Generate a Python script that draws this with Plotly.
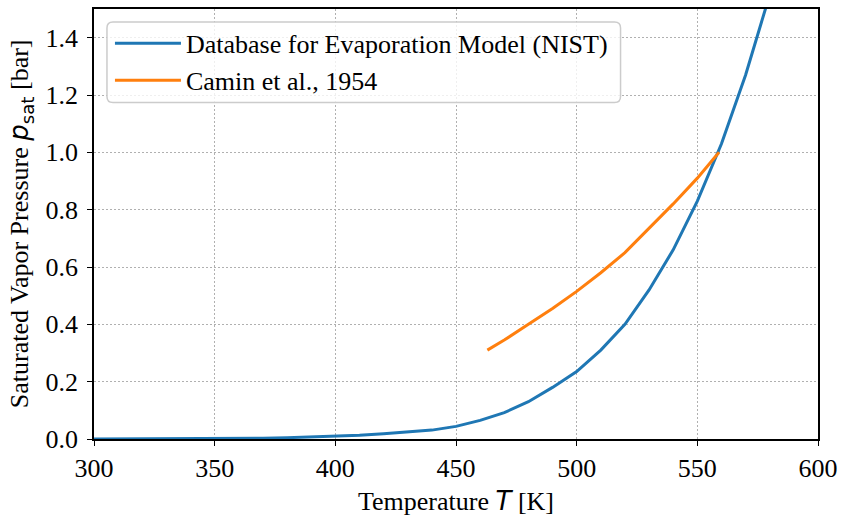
import plotly.graph_objects as go

# NIST database (blue)
nist_T = [300, 310, 320, 330, 340, 350, 360, 370, 380, 390, 400, 410, 420, 430,
          440, 450, 460, 470, 480, 490, 500, 510, 520, 530, 540, 550, 560, 570, 580]
nist_p = [0.0001, 0.0002, 0.0003, 0.0005, 0.0008, 0.0013, 0.002, 0.003, 0.0045,
          0.0065, 0.009, 0.013, 0.018, 0.025, 0.031, 0.044, 0.065, 0.092, 0.13,
          0.18, 0.235, 0.31, 0.40, 0.52, 0.66, 0.83, 1.03, 1.27, 1.55]

# Camin et al., 1954 (orange)
camin_T = [463, 470, 480, 490, 500, 510, 520, 530, 540, 550, 559]
camin_p = [0.31, 0.345, 0.40, 0.455, 0.515, 0.58, 0.65, 0.735, 0.82, 0.91, 1.0]

x_ticks = [300, 350, 400, 450, 500, 550, 600]
y_ticks = [0.0, 0.2, 0.4, 0.6, 0.8, 1.0, 1.2, 1.4]

SERIF = "Liberation Serif"
FS = 26

fig = go.Figure()
fig.add_trace(go.Scatter(x=nist_T, y=nist_p, mode="lines",
                         line=dict(color="#1f77b4", width=3),
                         name="Database for Evaporation Model (NIST)"))
fig.add_trace(go.Scatter(x=camin_T, y=camin_p, mode="lines",
                         line=dict(color="#ff7f0e", width=3),
                         name="Camin et al., 1954"))

def axis_common():
    return dict(
        showline=True, linecolor="black", linewidth=1.5, mirror=True,
        ticks="outside", ticklen=5, tickwidth=1.2, tickcolor="black",
        showgrid=True, gridcolor="#b0b0b0", gridwidth=1.2, griddash="1.5px,2.5px",
        zeroline=False,
    )

fig.update_layout(
    xaxis=dict(range=[300, 600], tickvals=x_ticks,
               ticktext=[str(v) for v in x_ticks],
               tickfont=dict(family=SERIF, size=FS, color="black"),
               title=dict(text="Temperature <i><span style='font-family:DejaVu Sans'>T</span></i> [K]",
                          font=dict(family=SERIF, size=FS, color="black"), standoff=10),
               **axis_common()),
    yaxis=dict(range=[0, 1.5], tickvals=y_ticks,
               ticktext=[f"{v:.1f}" for v in y_ticks],
               tickfont=dict(family=SERIF, size=FS, color="black"),
               ticklabelstandoff=4,
               **axis_common()),
)

W, H = 845, 518
def px(v): return (v - 94) / 726
def py(v): return (439 - v) / 432

# y-axis title placed as rotated annotation
fig.add_annotation(
    text="Saturated Vapor Pressure <i><span style='font-family:DejaVu Sans'>p</span></i>"
         "<sub><span style='font-family:DejaVu Sans'>sat</span></sub> [bar]",
    xref="paper", yref="paper", x=px(20), y=py(223),
    xanchor="center", yanchor="middle", textangle=-90, showarrow=False,
    font=dict(family=SERIF, size=FS, color="black"))

# rounded legend frame
x0, x1, y0, y1, r = 107, 622, 20, 101, 6
fig.add_shape(type="path", xref="paper", yref="paper",
              path=(f"M {px(x0+r)} {py(y0)} L {px(x1-r)} {py(y0)} "
                    f"Q {px(x1)} {py(y0)} {px(x1)} {py(y0+r)} "
                    f"L {px(x1)} {py(y1-r)} "
                    f"Q {px(x1)} {py(y1)} {px(x1-r)} {py(y1)} "
                    f"L {px(x0+r)} {py(y1)} "
                    f"Q {px(x0)} {py(y1)} {px(x0)} {py(y1-r)} "
                    f"L {px(x0)} {py(y0+r)} "
                    f"Q {px(x0)} {py(y0)} {px(x0+r)} {py(y0)} Z"),
              line=dict(color="#cccccc", width=1.5),
              fillcolor="rgba(255,255,255,0.8)", layer="above")

fig.update_layout(
    width=W, height=H,
    margin=dict(l=94, r=25, t=7, b=79),
    paper_bgcolor="white", plot_bgcolor="white",
    font=dict(family=SERIF, size=FS, color="black"),
    legend=dict(x=px(110), y=py(18), xanchor="left", yanchor="top",
                bgcolor="rgba(0,0,0,0)", borderwidth=0,
                font=dict(family=SERIF, size=FS, color="black"),
                itemwidth=66, tracegroupgap=0),
    showlegend=True,
)

fig.write_html("out.html")
